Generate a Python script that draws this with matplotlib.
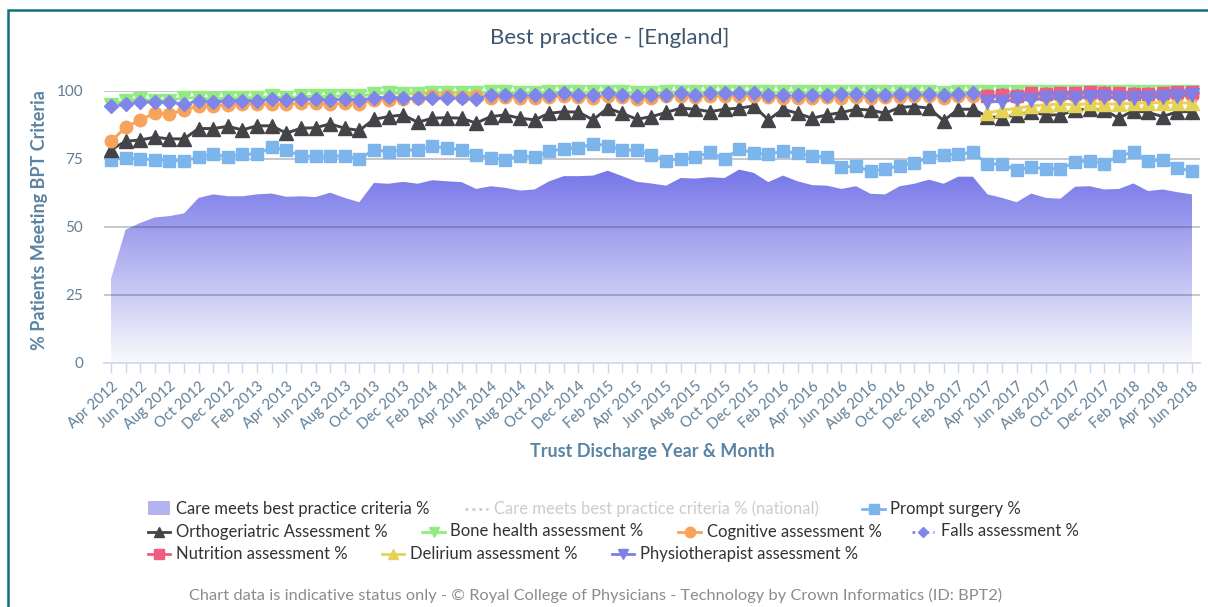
import numpy as np
import pandas as pd
import matplotlib
matplotlib.use("Agg")
import matplotlib.pyplot as plt
from matplotlib.lines import Line2D
from matplotlib.patches import Rectangle

plt.rcParams['font.family'] = ['Lato', 'DejaVu Sans']

# ---------------- data ----------------
months = list(pd.date_range('2012-04-01', periods=75, freq='MS').strftime('%b %Y'))

care = [31, 49, 51.5, 53.5, 54, 55, 60.7, 62, 61.3, 61.3, 62, 62.3, 61.1, 61.3, 61,
        62.6, 60.7, 59.1, 66.2, 65.9, 66.6, 65.9, 67.2, 66.8, 66.5, 64, 65, 64.4, 63.4,
        63.8, 66.8, 68.7, 68.7, 68.9, 70.7, 68.7, 66.6, 66, 65.2, 68, 67.8, 68.3, 68,
        71.1, 69.9, 66.5, 68.9, 66.8, 65.4, 65.2, 64, 65, 62.2, 62, 65, 65.9, 67.4,
        65.9, 68.5, 68.5, 62, 60.7, 59.1, 62.3, 60.7, 60.4, 64.8, 65, 63.8, 64, 66,
        63.2, 63.8, 62.8, 62]

prompt = [74.8, 75.4, 75, 74.8, 74.4, 74.4, 75.6, 76.8, 75.6, 76.8, 76.8, 79.3, 78.4,
          76, 76, 76, 76.2, 75, 78.4, 77.7, 78.3, 78.3, 79.6, 79, 78.4, 76.6, 75.4,
          74.8, 76.2, 75.7, 77.8, 78.8, 79, 80.6, 79.9, 78.4, 78.2, 76.3, 74.4, 75.1,
          75.6, 77.4, 75, 78.7, 77.2, 76.8, 77.8, 77.2, 76.2, 75.7, 72.1, 72.3, 70.5,
          71.3, 72.6, 73.5, 75.6, 76.6, 76.8, 77.4, 73.2, 73.2, 70.9, 72.1, 71.3, 71.5,
          73.8, 74.4, 73.3, 76.2, 77.4, 74.1, 74.8, 71.7, 70.5]

ortho = [78.4, 81.5, 82, 83, 82.4, 82.4, 86.2, 86.2, 87, 85.7, 87.2, 87.2, 84.5, 86.3,
         86.5, 87.9, 86.3, 85.5, 89.6, 90.6, 91.2, 88.5, 90, 90.2, 90, 88.2, 90.6, 91.2,
         90, 89.4, 91.8, 92.4, 92.2, 89.4, 93.7, 91.8, 89.6, 90.6, 92.1, 93.7, 93.3,
         92.4, 93.3, 93.7, 94.5, 89.4, 93.3, 91.8, 90, 91.2, 92.1, 93.3, 93, 91.8, 94,
         94.3, 93.7, 89.1, 93.3, 93.3, 90.6, 90.2, 91.2, 92.4, 91.2, 91.2, 93, 93.3, 93,
         90, 92.8, 92.1, 90.6, 92.4, 92.4]

bone = [95, 96.5, 97, 96.5, 96.5, 97.5, 97.5, 97, 97.5, 97.5, 97.5, 98, 97.5, 98, 98,
        98, 98.3, 98, 99, 99.3, 99, 99, 99.3, 99.3, 99.3, 99.2, 99.5, 99.5, 99.4, 99.4,
        99.5, 99.7, 99.5, 99.6, 99.7, 99.5, 99.3, 99.4, 99.6, 99.7, 99.6, 99.7, 99.7,
        99.7, 99.8, 99.6, 99.5, 99.5, 99.5, 99.5, 99.5, 99.6, 99.5, 99.5, 99.6, 99.6,
        99.6, 99.4, 99.6, 99.7, 99.5, 99.6, 99.6, 99.7, 99.6, 99.7, 99.7, 99.8, 99.7,
        99.7, 99.6, 99.6, 99.7, 99.8, 99.8]

cognitive = [81.5, 86.6, 89.4, 91.8, 91.5, 93, 94.5, 94.5, 94.9, 95.1, 95.2, 95.1, 95.1,
             95.5, 95.5, 95.1, 95.5, 95.2, 96.7, 96.7, 96.9, 97.3, 98, 98, 97.8, 98.3,
             97.6, 97.8, 97.5, 97.6, 97.7, 98.2, 97.8, 97.6, 98.1, 97.8, 97.2, 97.4, 98,
             98.3, 97.9, 98.2, 98.2, 98.3, 98.2, 97.8, 97.5, 97.6, 97.6, 97.7, 97.5, 97.8,
             97.6, 97.8, 97.9, 98, 98, 97.6, 98, 98, 97.8, 97.9, 97.9, 98, 98, 98, 98.1,
             98.1, 98, 98, 98.1, 98.1, 98.2, 98.2, 98.3]

falls = [94.5, 95.1, 96.1, 95.9, 95.9, 95.1, 96.5, 95.9, 96.5, 96.5, 96.5, 97, 96.8, 97,
         97, 96.8, 97, 96.8, 97.3, 97.9, 97.3, 97.3, 97.3, 97.3, 97.3, 97, 98.5, 98.7,
         98.5, 98.5, 98.5, 99.1, 98.5, 98.7, 99.1, 98.5, 98.2, 98.5, 98.7, 99.1, 98.7,
         99.1, 99.1, 99.1, 99.1, 98.7, 98.5, 98.5, 98.7, 98.7, 98.8, 98.8, 98.7, 98.7,
         98.9, 98.9, 98.9, 98.4, 98.9, 99.3, 98.2, 98.4, 98.3, 98.9, 98.8, 98.9, 99,
         99.3, 99.1, 99, 98.8, 98.8, 99, 99.4, 99.4]

# series reported from Apr 2017 onwards
late_start = 60
nutrition = [98.2, 98.5, 98.2, 99.1, 98.9, 99.1, 99.1, 99.7, 99.3, 99.1, 98.9, 98.9,
             99.1, 99.7, 99.7]
delirium = [91.8, 93, 93.6, 94.5, 94.9, 95.2, 94.9, 95.5, 95.2, 95.2, 95.5, 95.7, 95.7,
            95.7, 95.5]
physio = [96.1, 96.1, 96.9, 96.7, 97.3, 97.3, 97.3, 97.9, 97.9, 97.3, 97.6, 97.6, 97.9,
          98.2, 98.5]

# ---------------- figure ----------------
W, H = 1208, 607
fig = plt.figure(figsize=(W / 100, H / 100), dpi=100)
fig.patch.set_facecolor('white')

def fx(px):
    return px / W

def fy(py):
    return 1 - py / H

ax = fig.add_axes([fx(104), fy(363), fx(1200) - fx(104), fy(91) - fy(363)])
ax.set_facecolor('white')

x = np.arange(len(months))
xl = np.arange(late_start, late_start + len(nutrition))

# gradient area
poly = ax.fill_between(x, care, 0, facecolor='none', edgecolor='none', zorder=1)
path = poly.get_paths()[0]
top_c = np.array([116, 116, 232]) / 255.0
bot_c = np.array([250, 250, 252]) / 255.0
n = 256
t = np.linspace(0, 1, n)[:, None]
grad = bot_c[None, :] * (1 - t) + top_c[None, :] * t
grad = grad[:, None, :]
im = ax.imshow(grad, extent=[x[0], x[-1], 0, 72], origin='lower', aspect='auto',
               interpolation='bilinear', zorder=1)
im.set_clip_path(path, transform=ax.transData)

# gridlines
for g in [25, 50, 75, 100]:
    ax.axhline(g, color=(0.2, 0.2, 0.3, 0.3), lw=1.3, zorder=2)

lw = 2.1
common = dict(lw=lw, clip_on=False)
ax.plot(x, prompt, color='#7cb5ec', marker='s', ms=8.5, zorder=3, **common)
ax.plot(x, ortho, color='#434348', marker='^', ms=9.5, zorder=4, **common)
ax.plot(x, bone, color='#90ed7d', marker='v', ms=9.5, zorder=5, **common)
ax.plot(x, cognitive, color='#f7a35c', marker='o', ms=9, zorder=6, **common)
ax.plot(x, falls, color='#8085e9', marker='D', ms=7, ls=(0, (1, 1.5)), zorder=7, **common)
ax.plot(xl, nutrition, color='#f15c80', marker='s', ms=8.5, zorder=8, **common)
ax.plot(xl, delirium, color='#e4d354', marker='^', ms=9.5, zorder=9, **common)
ax.plot(xl, physio, color='#7f7fe6', marker='v', ms=9.5, zorder=10, **common)

ax.set_xlim(-0.48, len(months) - 1 + 0.55)
ax.set_ylim(0, 100)

for s in ['top', 'right', 'left']:
    ax.spines[s].set_visible(False)
ax.spines['bottom'].set_color('#ccd6eb')
ax.spines['bottom'].set_linewidth(1.2)
ax.spines['bottom'].set_zorder(2)

tick_color = '#5f7f98'
ax.set_xticks(x)
ax.set_xticklabels([m if i % 2 == 0 else '' for i, m in enumerate(months)],
                   rotation=42, ha='right', va='top', rotation_mode='anchor',
                   fontsize=10.6, color=tick_color)
ax.tick_params(axis='x', length=7.5, width=1, color='#ccd6eb', pad=4)
ax.set_yticks([0, 25, 50, 75, 100])
ax.set_yticklabels(['0', '25', '50', '75', '100'], fontsize=11, color=tick_color)
ax.tick_params(axis='y', length=0, pad=15)

# titles
fig.text(fx(610), fy(38), 'Best practice - [England]', ha='center', va='center',
         fontsize=16, color='#3d5670')
fig.text(fx(652), fy(451), 'Trust Discharge Year & Month', ha='center', va='center',
         fontsize=13, fontweight='bold', color='#5a84a3')
fig.text(fx(40), fy(220), '% Patients Meeting BPT Criteria', ha='center', va='center',
         rotation=90, fontsize=13, fontweight='bold', color='#5a84a3')

# legend (manual)
leg_fs = 12
txt_col = '#333333'

def handle_line(x0, x1, yc, color, marker=None, ms=7, ls='-', alpha=1.0):
    yy = fy(yc)
    fig.add_artist(Line2D([fx(x0), fx(x1)], [yy, yy], transform=fig.transFigure,
                          color=color, lw=2, ls=ls, alpha=alpha))
    if marker:
        fig.add_artist(Line2D([fx((x0 + x1) / 2)], [yy], transform=fig.transFigure,
                              color=color, marker=marker, ms=ms, ls='none'))

def label(xp, yc, s, color=txt_col):
    fig.text(fx(xp), fy(yc), s, ha='left', va='center', fontsize=leg_fs, color=color)

r1, r2, r3 = 509, 531.5, 554
fig.add_artist(Rectangle((fx(148), fy(515)), fx(170) - fx(148), fy(501) - fy(515),
                         transform=fig.transFigure, facecolor='#b3b3f0', edgecolor='none'))
label(176, r1, 'Care meets best practice criteria %')
handle_line(465, 488, r1, '#cccccc', ls=(0, (1, 1.5)))
label(494, r1, 'Care meets best practice criteria % (national)', color='#cccccc')
handle_line(862, 885, r1, '#7cb5ec', marker='s', ms=7)
label(890, r1, 'Prompt surgery %')

handle_line(148, 170, r2, '#434348', marker='^', ms=7.5)
label(176, r2, 'Orthogeriatric Assessment %')
handle_line(422, 445, r2, '#90ed7d', marker='v', ms=7.5)
label(450, r2, 'Bone health assessment %')
handle_line(678, 701, r2, '#f7a35c', marker='o', ms=7.5)
label(707, r2, 'Cognitive assessment %')
handle_line(912, 934, r2, '#8085e9', marker='D', ms=5.5, ls=(0, (1, 1.5)))
label(941, r2, 'Falls assessment %')

handle_line(148, 170, r3, '#f15c80', marker='s', ms=7)
label(176, r3, 'Nutrition assessment %')
handle_line(382, 404, r3, '#e4d354', marker='^', ms=7.5)
label(410, r3, 'Delirium assessment %')
handle_line(612, 634, r3, '#7f7fe6', marker='v', ms=7.5)
label(640, r3, 'Physiotherapist assessment %')

fig.text(fx(596), fy(595), 'Chart data is indicative status only - \u00a9 Royal College of '
         'Physicians - Technology by Crown Informatics (ID: BPT2)', ha='center', va='center',
         fontsize=11.8, color='#8c8c8c')

# outer border
fig.add_artist(Rectangle((fx(8), fy(620)), fx(1230) - fx(8), fy(10) - fy(620),
                         transform=fig.transFigure, facecolor='none', edgecolor='#14707a',
                         lw=1.8, clip_on=False))

fig.savefig('out.png', dpi=100)
